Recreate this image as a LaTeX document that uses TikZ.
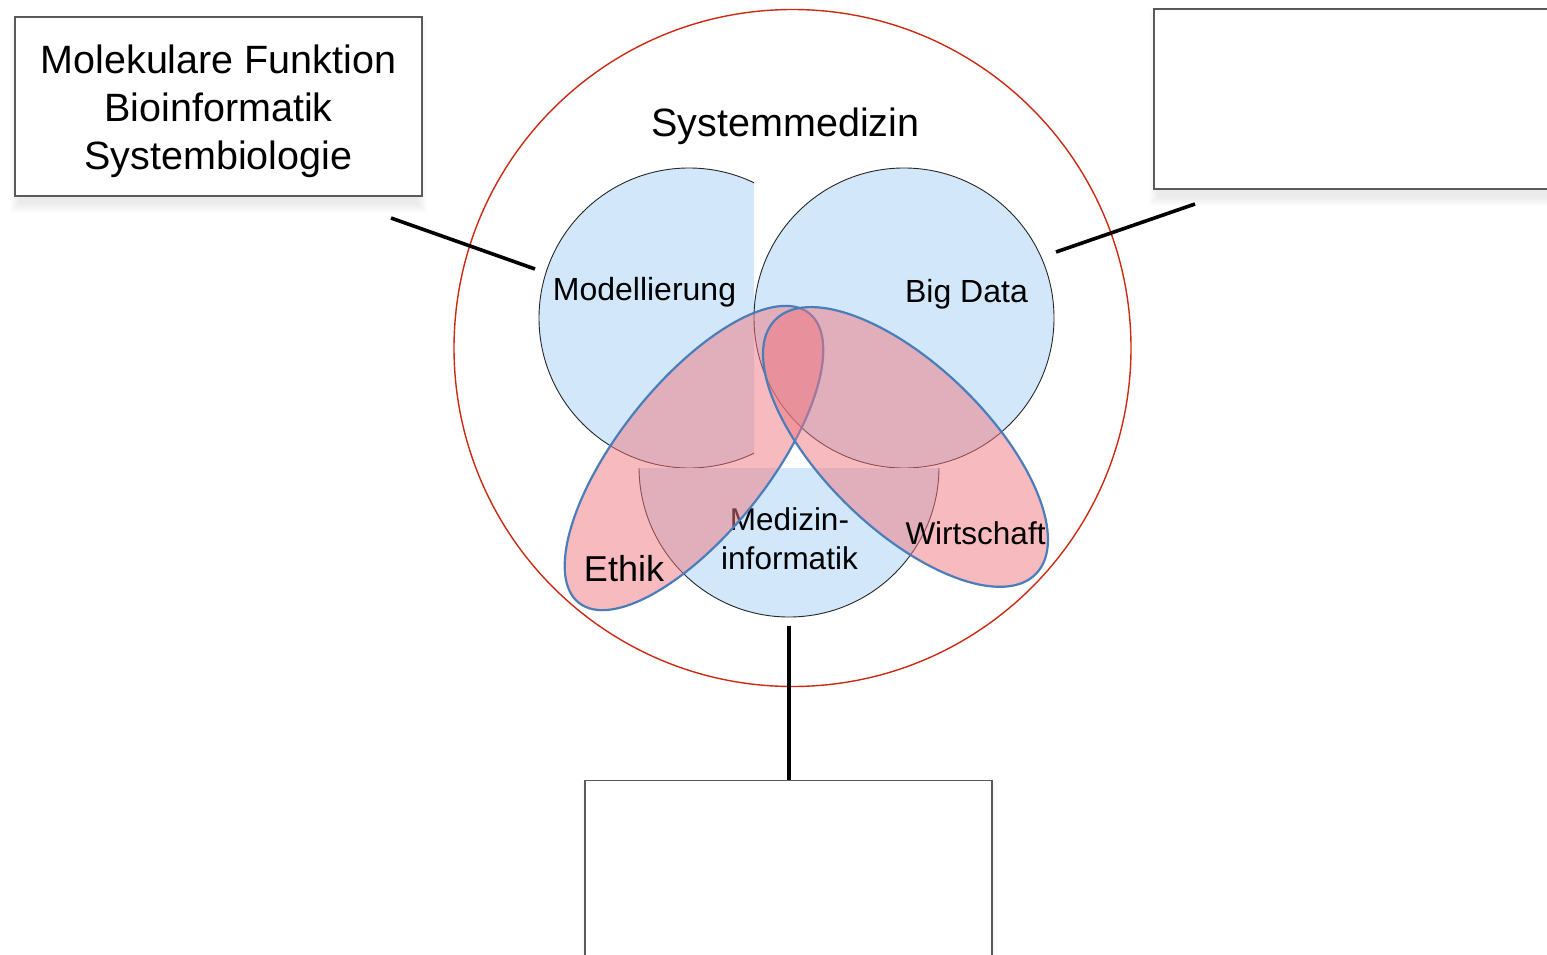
\documentclass[tikz,border=0pt]{standalone}
\usepackage{fontspec}
\setmainfont{Liberation Sans}
\definecolor{cblue}{RGB}{210,232,250}
\definecolor{cred}{RGB}{204,42,18}
\definecolor{cedge}{RGB}{74,126,187}
\definecolor{cpink}{RGB}{240,118,128}
\definecolor{cbox}{RGB}{90,90,90}
\tikzset{
  bubble/.style={fill=cblue, draw=black!85, line width=0.9pt},
  petal/.style={fill=cpink, fill opacity=0.5, draw=cedge, line width=2.2pt},
  outer/.style={draw=cred, line width=1.4pt},
  infobox/.style={draw=cbox, line width=1.2pt, fill=white},
  link/.style={draw=black, line width=3.6pt},
  bigtxt/.style={font=\fontsize{39.5}{48}\selectfont, align=center, inner sep=0pt},
  midtxt/.style={font=\fontsize{32}{39}\selectfont, align=center, inner sep=0pt},
}
\newcommand{\softshadow}[4]{%
  \foreach \k in {0,...,9}{%
    \fill[black, opacity=0.008] (#1+4-\k,#2+10-\k) rectangle (#3-4+\k,#4+8+\k);}}
\begin{document}
\begin{tikzpicture}[x=1pt,y=-1pt]
\useasboundingbox (0,0) rectangle (1547,955);
\fill[white] (0,0) rectangle (1547,955);

% boxes with soft shadow
\softshadow{15}{17}{422}{196}
\softshadow{1154}{9}{1560}{189}
\softshadow{585}{780}{992}{970}
\node[infobox, minimum width=407pt, minimum height=179pt, inner sep=0pt] (lbox) at (218.5,106.5) {};
\node[bigtxt] (ltext) at (218.5,111) {Molekulare Funktion\\Bioinformatik\\Systembiologie};
\draw[infobox] (1154,9) rectangle (1560,189);
\coordinate (rbox) at (1154,189);
\node[infobox, minimum width=407pt, minimum height=200pt, inner sep=0pt, anchor=north] (bbox) at (788.5,780) {};

% outer circle
\coordinate (sys) at (792.5,348);
\draw[outer] (sys) circle [radius=338.5];
\node[bigtxt] (systxt) at (785.5,126) {Systemmedizin};

% three circles
\coordinate (cmod) at (689,318);
\coordinate (cbig) at (904,318);
\coordinate (cmed) at (789,467);
\begin{scope}
  \clip (500,120) rectangle (754,520);
  \path[bubble] (cmod) circle [radius=150];
\end{scope}
\path[bubble] (cbig) circle [radius=150];
\begin{scope}
  \clip (600,468) rectangle (1000,660);
  \path[bubble] (cmed) circle [radius=150];
\end{scope}

\node[midtxt] (modtxt) at (644.5,292) {Modellierung};
\node[midtxt] (bigtxt) at (966.5,294) {Big Data};
\node[midtxt, font=\fontsize{31.5}{39}\selectfont] (medtxt) at (789.5,539) {Medizin-\\informatik};

% petals
\coordinate (ceth) at (694,458);
\coordinate (cwir) at (905.5,447);
\path[petal, rotate around={51.5:(ceth)}] (ceth) ellipse [x radius=185, y radius=75];
\path[petal, rotate around={-44.2:(cwir)}] (cwir) ellipse [x radius=182, y radius=82];

\node[midtxt, font=\fontsize{36}{40}\selectfont] (ethtxt) at (624,569) {Ethik};
\node[midtxt, font=\fontsize{31.5}{39}\selectfont] (wirtxt) at (975.5,533) {Wirtschaft};

% connectors
\coordinate (la) at (391,218);
\coordinate (lb) at (535,269);
\coordinate (ra) at (1056,252);
\coordinate (rb) at (1195,204);
\coordinate (ba) at (789,626);
\draw[link] (la) -- (lb);
\draw[link] (ra) -- (rb);
\draw[link] (ba) -- (ba |- bbox.north);
\end{tikzpicture}
\end{document}
